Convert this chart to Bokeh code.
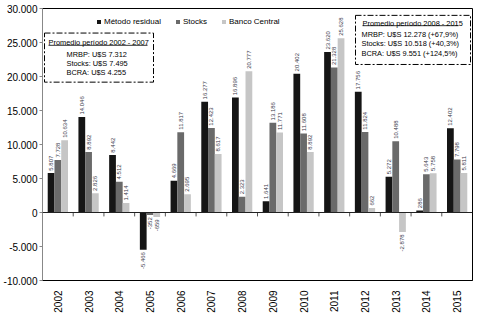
import math
from bokeh.plotting import figure
from bokeh.models import (FixedTicker, Legend, LegendItem, Span, BoxAnnotation,
                          Label, ColumnDataSource, Range1d)
from bokeh.embed import file_html
from bokeh.resources import INLINE

years = ["2002", "2003", "2004", "2005", "2006", "2007", "2008", "2009",
         "2010", "2011", "2012", "2013", "2014", "2015"]
metodo_residual = [5807, 14046, 8442, -5466, 4669, 16277, 16896, 1641,
                   20402, 23620, 17756, 5272, 286, 12402]
stocks = [7728, 8892, 4512, -352, 11817, 12423, 2323, 13186,
          11608, 21328, 11824, 10488, 5643, 7798]
banco_central = [10634, 2826, 1414, -659, 2695, 8617, 20777, 11771,
                 8892, 25628, 662, -2878, 5758, 5811]
y_ticks = [-10000, -5000, 0, 5000, 10000, 15000, 20000, 25000, 30000]
y_tick_labels = ["-10.000", "-5.000", "0", "5.000", "10.000", "15.000",
                 "20.000", "25.000", "30.000"]
series_names = ["Método residual", "Stocks", "Banco Central"]
box_left_title = "Promedio período 2002 - 2007"
box_left_lines = ["MRBP: U$S 7.312", "Stocks: U$S 7.495", "BCRA: U$S 4.255"]
box_right_title = "Promedio período 2008 - 2015"
box_right_lines = ["MRBP: U$S 12.278 (+67,9%)", "Stocks: U$S 10.518 (+40,3%)",
                   "BCRA: U$S 9.551 (+124,5%)"]

W, H = 479, 315
FL, FR, FT, FB = 42, 7, 8, 30
FW = W - FL - FR
FH = H - FT - FB
n = len(years)
YMIN, YMAX = -10000, 30000

def px2x(px):
    return (px - FL) / FW * n

def py2y(py):
    return YMAX - (py - FT) / FH * (YMAX - YMIN)

p = figure(width=W, height=H, output_backend="svg", toolbar_location=None,
           x_range=Range1d(0, n), y_range=Range1d(YMIN, YMAX),
           min_border_left=FL, min_border_right=FR, min_border_top=FT,
           min_border_bottom=FB)
p.xgrid.visible = False
p.ygrid.visible = False
p.outline_line_color = "black"
p.outline_line_width = 1
p.background_fill_color = "white"
p.border_fill_color = "white"

font = "Liberation Sans"
narrow = "Liberation Sans Narrow, Liberation Sans"

# x axis
p.xaxis.ticker = FixedTicker(ticks=[i + 0.5 for i in range(n)])
p.xaxis.major_label_overrides = {i + 0.5: y for i, y in enumerate(years)}
p.xaxis.major_label_orientation = math.pi / 2
p.xaxis.major_tick_line_color = None
p.xaxis.minor_tick_line_color = None
p.xaxis.axis_line_color = "black"
p.xaxis.major_label_text_font = font
p.xaxis.major_label_text_font_size = "10px"
p.xaxis.major_label_text_color = "black"
p.xaxis.major_label_standoff = 4

# y axis
p.yaxis.ticker = FixedTicker(ticks=y_ticks)
p.yaxis.major_label_overrides = {t: l for t, l in zip(y_ticks, y_tick_labels)}
p.yaxis.minor_tick_line_color = None
p.yaxis.major_tick_out = 3
p.yaxis.major_tick_in = 0
p.yaxis.major_tick_line_color = "#888888"
p.yaxis.axis_line_color = "#888888"
p.yaxis.major_label_text_font = font
p.yaxis.major_label_text_font_size = "10px"
p.yaxis.major_label_text_color = "black"
p.yaxis.major_label_standoff = 2

colors = ["#151515", "#6a6a6a", "#c6c6c6"]
offsets = [-0.22, 0.0, 0.22]
bw = 0.22
renderers = []
for vals, col, off in zip([metodo_residual, stocks, banco_central], colors, offsets):
    xs = [i + 0.5 + off for i in range(n)]
    src = ColumnDataSource(dict(x=xs, top=vals))
    r = p.vbar(x="x", top="top", bottom=0, width=bw, source=src,
               fill_color=col, line_color=None)
    renderers.append(r)
    labels = [f"{v:,}".replace(",", ".") for v in vals]
    pos_x = [x for x, v in zip(xs, vals) if v >= 0]
    pos_y = [v + 350 for v in vals if v >= 0]
    pos_t = [l for l, v in zip(labels, vals) if v >= 0]
    neg_x = [x for x, v in zip(xs, vals) if v < 0]
    neg_y = [v - 350 for v in vals if v < 0]
    neg_t = [l for l, v in zip(labels, vals) if v < 0]
    p.text(x=pos_x, y=pos_y, text=pos_t, angle=math.pi / 2, text_align="left",
           text_baseline="middle", text_font_size="6px", text_color="#3a3a4a",
           text_font={"value": narrow})
    p.text(x=neg_x, y=neg_y, text=neg_t, angle=math.pi / 2, text_align="right",
           text_baseline="middle", text_font_size="6px", text_color="#3a3a4a",
           text_font={"value": narrow})

# zero line and category boundary ticks
p.add_layout(Span(location=0, dimension="width", line_color="#222222", line_width=1))
tick_len = 4 / FH * (YMAX - YMIN)
p.segment(x0=list(range(1, n)), x1=list(range(1, n)), y0=[0] * (n - 1),
          y1=[-tick_len] * (n - 1), line_color="#555555", line_width=1)

# legend
legend = Legend(items=[LegendItem(label=nm, renderers=[r]) for nm, r in zip(series_names, renderers)],
                orientation="horizontal", location=(54, FH - 14 - 9),
                glyph_width=5, glyph_height=5, label_standoff=3, spacing=14,
                padding=0, margin=0, label_height=9, label_text_font=font,
                label_text_font_size="8px", label_text_color="black",
                border_line_color=None, background_fill_alpha=0)
p.add_layout(legend, "center")

# summary boxes
def summary_box(l, r, t, b, title, lines, tx, ty, tw, lx, ly0, dy):
    p.add_layout(BoxAnnotation(left=px2x(l), right=px2x(r), top=py2y(t), bottom=py2y(b),
                               fill_color="white", fill_alpha=1.0, line_color="black",
                               line_alpha=1.0, line_width=1, line_dash="6 2 2 2"))
    p.add_layout(Label(x=px2x(tx), y=py2y(ty), text=title, text_font=font,
                       text_font_size="7.4px", text_color="black", text_baseline="alphabetic"))
    p.segment(x0=[px2x(tx)], x1=[px2x(tx + tw)], y0=[py2y(ty + 2.5)], y1=[py2y(ty + 2.5)],
              line_color="black", line_width=0.8, level="overlay")
    for k, s in enumerate(lines):
        p.add_layout(Label(x=px2x(lx), y=py2y(ly0 + k * dy), text=s, text_font=font,
                           text_font_size="7.4px", text_color="black",
                           text_baseline="middle"))

summary_box(44, 153, 33, 83, box_left_title, box_left_lines, 48, 43, 99, 66, 55, 9.3)
summary_box(355, 470, 15, 65, box_right_title, box_right_lines, 362, 23, 96, 361, 34, 10)

open("out.html", "w").write(file_html(p, INLINE))
